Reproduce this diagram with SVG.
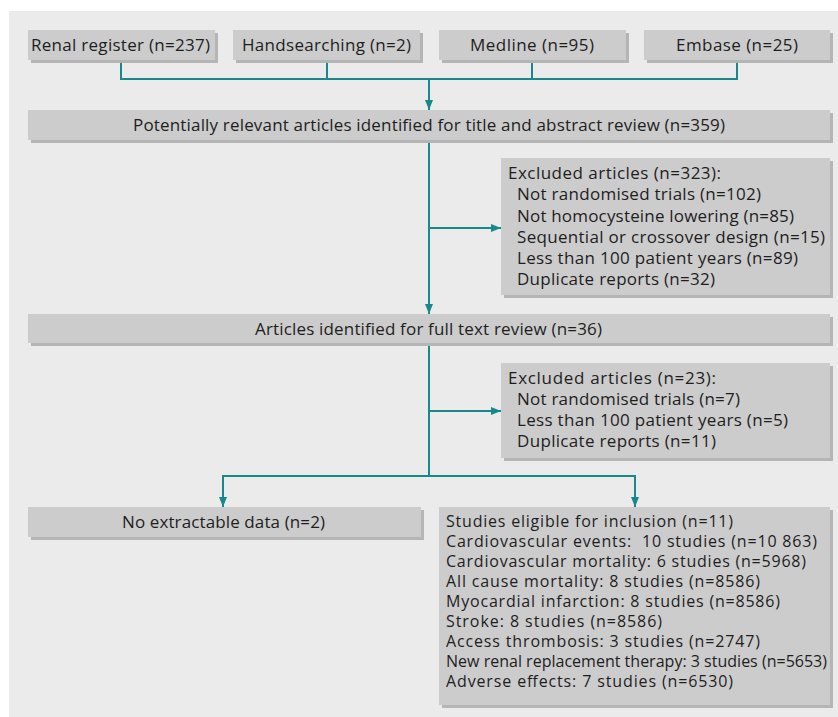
<svg xmlns="http://www.w3.org/2000/svg" width="838" height="717" viewBox="0 0 838 717">
<style>
.bg{fill:#ebebeb}
.box{fill:#cccccc}
.sh{fill:#b5b5b5}
.t{font-family:"Open Sans","Noto Sans","Liberation Sans",sans-serif;font-size:17px;fill:#1e1e1e}
.s{font-size:16px}
.c{fill:none;stroke:#17898a;stroke-width:2}
</style>
<defs>
<marker id="ah" viewBox="0 0 10 10" refX="10" refY="5" markerWidth="10" markerHeight="10" markerUnits="userSpaceOnUse" orient="auto">
<path d="M0,1 L10,5 L0,9 z" fill="#17898a"/>
</marker>
</defs>
<rect class="bg" x="9" y="11" width="829" height="706"/>

<g id="connectors">
<path class="c" d="M121,60 V79 H737 V60 M327,60 V79 M532,60 V79"/>
<path class="c" d="M429,79 V110" marker-end="url(#ah)"/>
<path class="c" d="M429,140 V314" marker-end="url(#ah)"/>
<path class="c" d="M429,228 H501" marker-end="url(#ah)"/>
<path class="c" d="M429,343 V476"/>
<path class="c" d="M429,411 H501" marker-end="url(#ah)"/>
<path class="c" d="M223,476 H635"/>
<path class="c" d="M223,475 V507" marker-end="url(#ah)"/>
<path class="c" d="M635,475 V507" marker-end="url(#ah)"/>
</g>

<g id="renal">
<rect class="sh" x="31" y="33" width="187" height="30"/>
<rect class="box" x="28" y="30" width="187" height="30"/>
<text class="t" x="31" y="51" textLength="179">Renal register (n=237)</text>
</g>
<g id="handsearching">
<rect class="sh" x="236" y="33" width="187" height="30"/>
<rect class="box" x="233" y="30" width="187" height="30"/>
<text class="t" x="242" y="51" textLength="169">Handsearching (n=2)</text>
</g>
<g id="medline">
<rect class="sh" x="442" y="33" width="187" height="30"/>
<rect class="box" x="439" y="30" width="187" height="30"/>
<text class="t" x="470" y="51" textLength="124">Medline (n=95)</text>
</g>
<g id="embase">
<rect class="sh" x="647" y="33" width="186" height="30"/>
<rect class="box" x="644" y="30" width="186" height="30"/>
<text class="t" x="676" y="51" textLength="122">Embase (n=25)</text>
</g>

<g id="potentially">
<rect class="sh" x="31" y="113" width="802" height="30"/>
<rect class="box" x="28" y="110" width="802" height="30"/>
<text class="t" x="133" y="131" textLength="592">Potentially relevant articles identified for title and abstract review (n=359)</text>
</g>

<g id="excluded1">
<rect class="sh" x="504" y="161" width="329" height="137"/>
<rect class="box" x="501" y="158" width="329" height="137"/>
<text class="t" x="508" y="179" textLength="213">Excluded articles (n=323):</text>
<text class="t" x="517" y="200" textLength="244">Not randomised trials (n=102)</text>
<text class="t" x="517" y="221.5" textLength="277">Not homocysteine lowering (n=85)</text>
<text class="t" x="517" y="242.5" textLength="308">Sequential or crossover design (n=15)</text>
<text class="t" x="517" y="264" textLength="281">Less than 100 patient years (n=89)</text>
<text class="t" x="517" y="285" textLength="198">Duplicate reports (n=32)</text>
</g>

<g id="articles">
<rect class="sh" x="31" y="317" width="802" height="29"/>
<rect class="box" x="28" y="314" width="802" height="29"/>
<text class="t" x="255" y="334.5" textLength="347">Articles identified for full text review (n=36)</text>
</g>

<g id="excluded2">
<rect class="sh" x="504" y="366" width="329" height="95"/>
<rect class="box" x="501" y="363" width="329" height="95"/>
<text class="t" x="508" y="384" textLength="208">Excluded articles (n=23):</text>
<text class="t" x="517" y="405" textLength="223">Not randomised trials (n=7)</text>
<text class="t" x="517" y="426" textLength="271">Less than 100 patient years (n=5)</text>
<text class="t" x="517" y="447" textLength="199">Duplicate reports (n=11)</text>
</g>

<g id="noextract">
<rect class="sh" x="31" y="510" width="393" height="30"/>
<rect class="box" x="28" y="507" width="393" height="30"/>
<text class="t" x="122" y="528" textLength="203">No extractable data (n=2)</text>
</g>

<g id="studies">
<rect class="sh" x="442" y="510" width="391" height="198"/>
<rect class="box" x="439" y="507" width="391" height="198"/>
<text class="t s" x="446" y="527" textLength="287">Studies eligible for inclusion (n=11)</text>
<text class="t s" x="446" y="547" textLength="371" xml:space="preserve">Cardiovascular events:  10 studies (n=10 863)</text>
<text class="t s" x="446" y="567" textLength="360">Cardiovascular mortality: 6 studies (n=5968)</text>
<text class="t s" x="446" y="587" textLength="314">All cause mortality: 8 studies (n=8586)</text>
<text class="t s" x="446" y="607" textLength="334">Myocardial infarction: 8 studies (n=8586)</text>
<text class="t s" x="446" y="627" textLength="216">Stroke: 8 studies (n=8586)</text>
<text class="t s" x="446" y="647" textLength="314">Access thrombosis: 3 studies (n=2747)</text>
<text class="t s" x="446" y="667" textLength="381">New renal replacement therapy: 3 studies (n=5653)</text>
<text class="t s" x="446" y="687" textLength="287">Adverse effects: 7 studies (n=6530)</text>
</g>
</svg>
